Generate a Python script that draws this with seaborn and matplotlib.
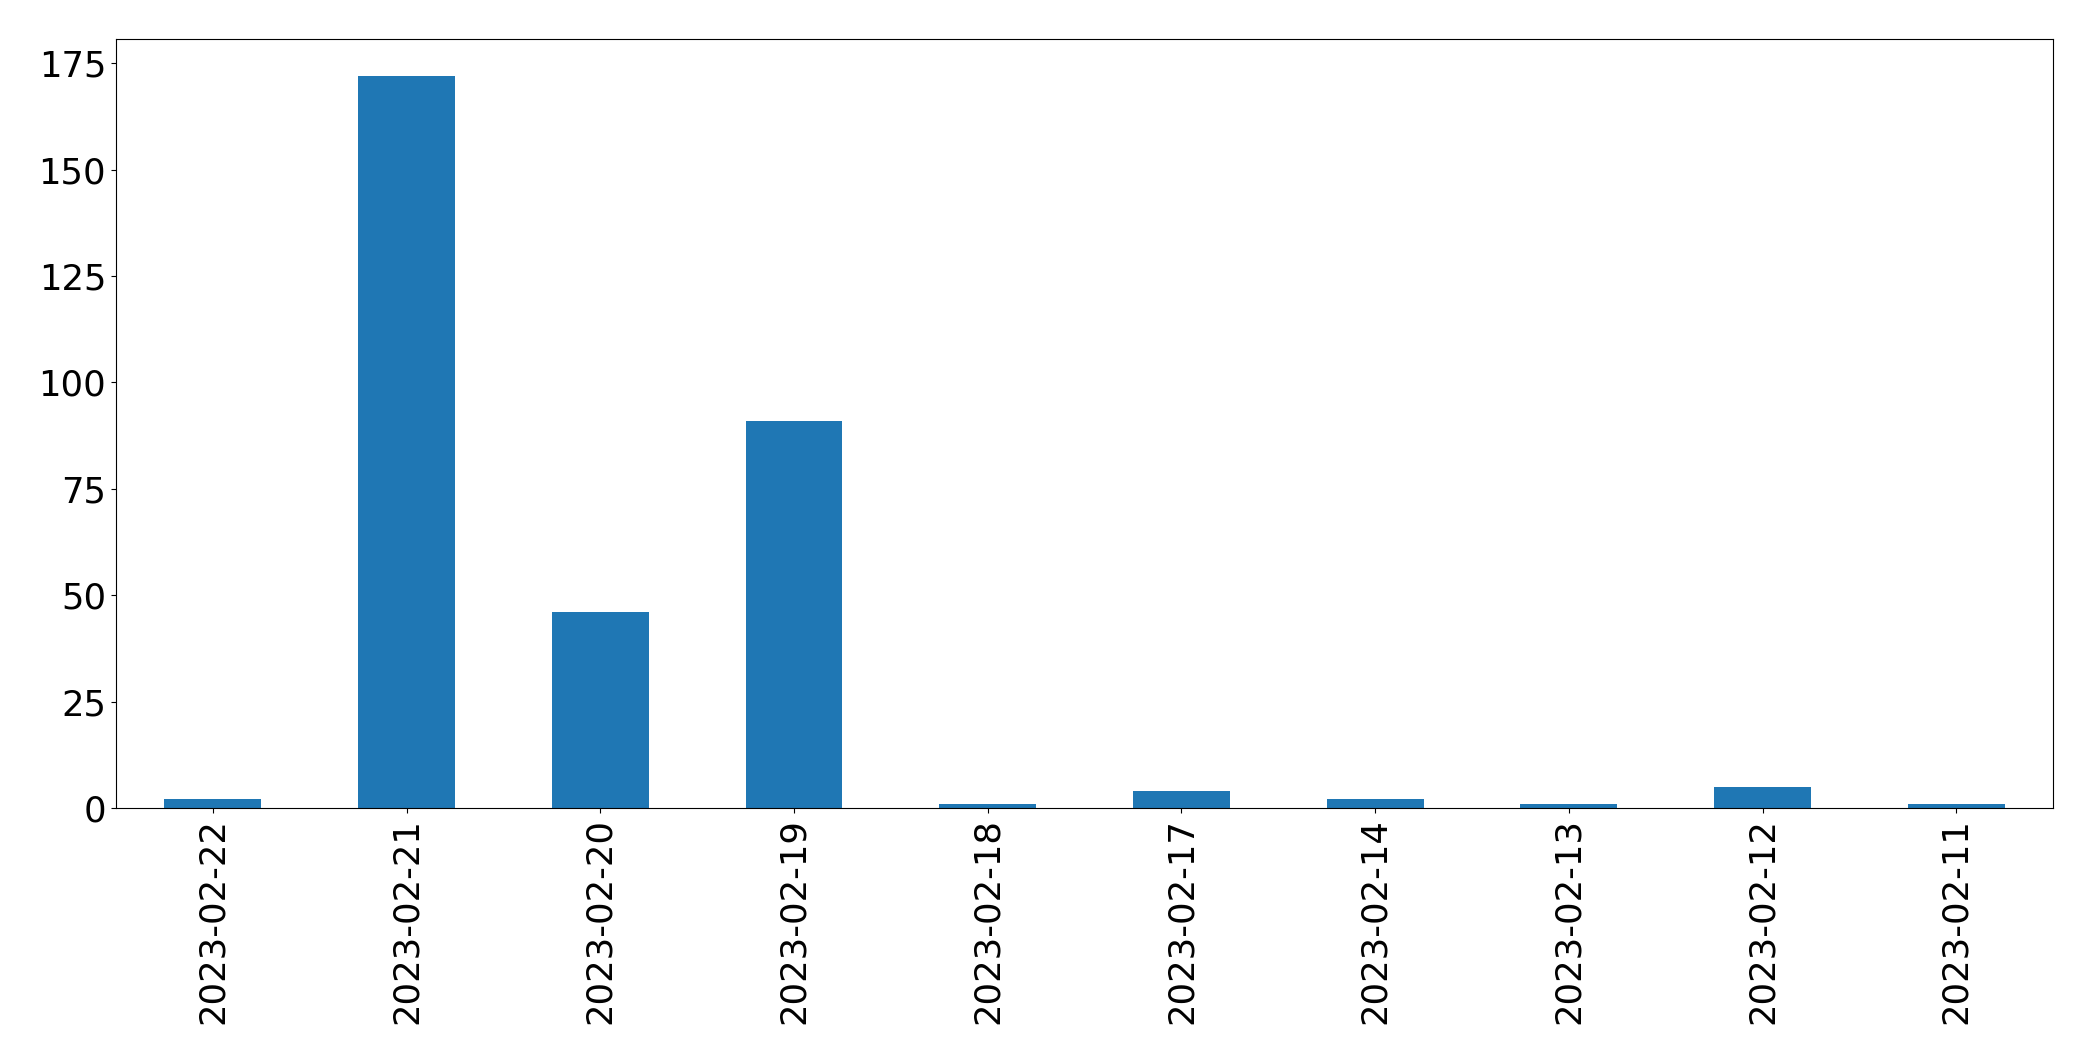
import pandas as pd
import seaborn as sns
import matplotlib
matplotlib.use("Agg")
import matplotlib.pyplot as plt

dates = ['2023-02-22', '2023-02-21', '2023-02-20', '2023-02-19', '2023-02-18',
         '2023-02-17', '2023-02-14', '2023-02-13', '2023-02-12', '2023-02-11']
counts = [2, 172, 46, 91, 1, 4, 2, 1, 5, 1]

df = pd.DataFrame({'date': dates, 'count': counts})

plt.rcParams['font.size'] = 25.5
plt.rcParams['axes.edgecolor'] = 'black'
fig, ax = plt.subplots(figsize=(20.93, 10.61), dpi=100)
fig.subplots_adjust(left=0.0554, right=0.981, top=0.963, bottom=0.2385)

sns.barplot(data=df, x='date', y='count', order=dates, color='#1f77b4',
            saturation=1, width=0.5, ax=ax)
ax.set_xlim(-0.5, len(dates) - 0.5)
ax.set_ylim(0, max(counts) * 1.05)
ax.set_xlabel('')
ax.set_ylabel('')
ax.tick_params(axis='x', labelrotation=90)

fig.savefig('out.png', dpi=100)
